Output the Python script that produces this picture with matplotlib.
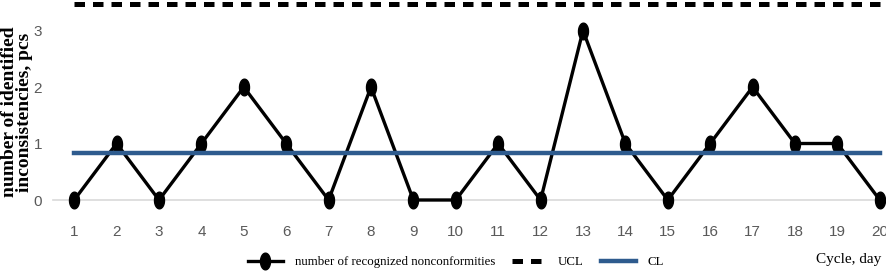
import numpy as np
import matplotlib
matplotlib.use("Agg")
import matplotlib.pyplot as plt

# chart data
days = list(range(1, 21))
nonconformities = [0, 1, 0, 1, 2, 1, 0, 2, 0, 0, 1, 0, 3, 1, 0, 1, 2, 1, 1, 0]
ucl = 3.47
cl = 0.83

plt.rcParams['font.family'] = ['Liberation Serif', 'DejaVu Serif']

fig = plt.figure(figsize=(8.87, 2.80), dpi=100)
ax = fig.add_axes([53 / 887, 80 / 280, 834 / 887, 200 / 280])

# tall ellipse marker
t = np.linspace(0, 2 * np.pi, 40)
blob = np.column_stack([0.6 * np.cos(t), np.sin(t)])

ax.plot(days, nonconformities, color='black', lw=2.4, marker=blob,
        markersize=12, clip_on=False, zorder=3,
        label='number of recognized nonconformities')
ax.plot([days[0], days[-1]], [ucl, ucl], color='black', lw=3.6,
        ls=(0, (2.1, 1.6)), clip_on=False, label='UCL')
ax.plot([days[0], days[-1]], [cl, cl], color='#2E5B8E', lw=3.2,
        clip_on=False, zorder=4, label='CL')

ax.set_xlim(0.5, 20.17)
ax.set_ylim(0, 3.54)
ax.set_xticks(days)
ax.set_yticks([0, 1, 2, 3])
for s in ['top', 'right', 'left']:
    ax.spines[s].set_visible(False)
ax.spines['bottom'].set_color('#d9d9d9')
ax.spines['bottom'].set_linewidth(1.2)
ax.tick_params(length=0, colors='#595959', labelsize=11)
ax.tick_params(axis='x', pad=18)
ax.tick_params(axis='y', pad=8)
for lab in ax.get_xticklabels() + ax.get_yticklabels():
    lab.set_family(['Liberation Sans Narrow', 'Liberation Sans', 'DejaVu Sans'])

fig.text(0.019, 0.6, 'number of identified\ninconsistencies, pcs', rotation=90,
         ha='center', va='center', fontsize=14, fontweight='bold',
         linespacing=0.9)

fig.text(0.993, 0.075, 'Cycle, day', ha='right', va='center', fontsize=11)

ax.legend(loc='center', bbox_to_anchor=(0.483, -0.31),
          ncol=3, frameon=False, fontsize=9.3, handlelength=2.7,
          handletextpad=0.9, columnspacing=1.3)

fig.savefig('out.png', dpi=100)
